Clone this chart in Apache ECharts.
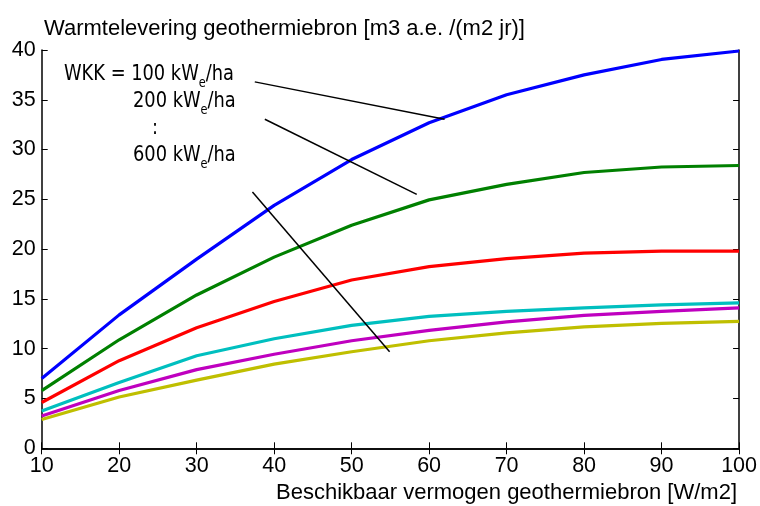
<!DOCTYPE html>
<html><head><meta charset="utf-8">
<script src="https://cdn.jsdelivr.net/npm/echarts@6/dist/echarts.min.js"></script>
<style>html,body{margin:0;padding:0;background:#fff}#c{width:760px;height:506px}</style>
</head><body><div id="c"></div>
<script>
const xValues = [10, 20, 30, 40, 50, 60, 70, 80, 90, 100];
const wkk100 = [7.0, 13.4, 19.0, 24.4, 29.0, 32.7, 35.5, 37.5, 39.05, 39.9];
const wkk200 = [5.8, 10.9, 15.4, 19.2, 22.4, 24.95, 26.5, 27.7, 28.25, 28.4];
const wkk300 = [4.6, 8.8, 12.1, 14.75, 16.9, 18.25, 19.05, 19.6, 19.8, 19.8];
const wkk400 = [3.75, 6.6, 9.3, 11.0, 12.35, 13.25, 13.75, 14.1, 14.4, 14.6];
const wkk500 = [3.25, 5.8, 7.9, 9.45, 10.8, 11.85, 12.7, 13.35, 13.75, 14.1];
const wkk600 = [2.9, 5.15, 6.85, 8.45, 9.7, 10.8, 11.6, 12.2, 12.55, 12.75];
const seriesNames = ['100', '200', '300', '400', '500', '600'];
const seriesColors = ['#0000ff', '#008000', '#ff0000', '#00bfbf', '#bf00bf', '#bfbf00'];
// annotation pointer lines, in data coordinates [x, y]
const pointer1 = [[37.5, 36.8], [62.0, 33.05]];
const pointer2 = [[38.8, 33.05], [58.4, 25.5]];
const pointer3 = [[37.2, 25.75], [54.9, 9.7]];

const allSeries = [wkk100, wkk200, wkk300, wkk400, wkk500, wkk600];
const chart = echarts.init(document.getElementById('c'));
const font = 'Arial, "Liberation Sans", sans-serif';
const narrow = '"Liberation Sans Narrow", "Arial Narrow", "DejaVu Sans Condensed", sans-serif';
const axisCommon = {
  axisLine: { show: true, lineStyle: { color: '#000', width: 1.5 } },
  axisTick: { show: true, inside: true, length: 6, lineStyle: { color: '#000', width: 1 } },
  splitLine: { show: false }
};
const series = allSeries.map((vals, i) => ({
  name: seriesNames[i], type: 'line', showSymbol: false, symbol: 'none',
  data: xValues.map((x, j) => [x, vals[j]]),
  lineStyle: { color: seriesColors[i], width: 3.2 }, itemStyle: { color: seriesColors[i] },
  z: 3, silent: true, animation: false
}));
[pointer1, pointer2, pointer3].forEach(p => series.push({
  type: 'line', showSymbol: false, symbol: 'none', data: p,
  lineStyle: { color: '#000', width: 1.5 }, z: 4, silent: true, animation: false
}));
const sub = { fontSize: 14, fontFamily: narrow, color: '#000', verticalAlign: 'bottom', padding: [0, 0, -5, 0] };
const nrm = { fontSize: 22, fontFamily: narrow, color: '#000' };
const sx = 0.9;
chart.setOption({
  animation: false,
  backgroundColor: '#fff',
  grid: { left: 41.7, right: 20, top: 50, bottom: 57.7, containLabel: false },
  title: [
    { text: 'Warmtelevering geothermiebron [m3 a.e. /(m2 jr)]', left: 39, top: 13,
      textStyle: { fontFamily: font, fontSize: 22, fontWeight: 'normal', color: '#000' } },
    { text: 'Beschikbaar vermogen geothermiebron [W/m2]', right: 18, top: 477,
      textStyle: { fontFamily: font, fontSize: 22, fontWeight: 'normal', color: '#000' } }
  ],
  xAxis: [
    Object.assign({ type: 'value', min: 10, max: 100, interval: 10, position: 'bottom',
      axisLabel: { color: '#000', fontFamily: font, fontSize: 21.5, margin: 7 } }, axisCommon),
    Object.assign({ type: 'value', min: 10, max: 100, interval: 10, position: 'top',
      axisLabel: { show: false } }, axisCommon)
  ],
  yAxis: [
    Object.assign({ type: 'value', min: 0, max: 40, interval: 5, position: 'left',
      axisLabel: { color: '#000', fontFamily: font, fontSize: 21.5, margin: 6 } }, axisCommon),
    Object.assign({ type: 'value', min: 0, max: 40, interval: 5, position: 'right',
      axisLabel: { show: false } }, axisCommon)
  ],
  series: series,
  graphic: [
    { type: 'text', x: 64, y: 74, scaleX: sx, z: 10, style: { text: '{n|WKK = 100 kW}{e|e}{n|/ha}', textVerticalAlign: 'middle', rich: { n: nrm, e: sub } } },
    { type: 'text', x: 133, y: 101, scaleX: sx, z: 10, style: { text: '{n|200 kW}{e|e}{n|/ha}', textVerticalAlign: 'middle', rich: { n: nrm, e: sub } } },
    { type: 'text', x: 152, y: 128, scaleX: sx, z: 10, style: { text: ':', textVerticalAlign: 'middle', font: '22px ' + narrow, fill: '#000' } },
    { type: 'text', x: 133, y: 155, scaleX: sx, z: 10, style: { text: '{n|600 kW}{e|e}{n|/ha}', textVerticalAlign: 'middle', rich: { n: nrm, e: sub } } }
  ]
});
</script>
</body></html>
